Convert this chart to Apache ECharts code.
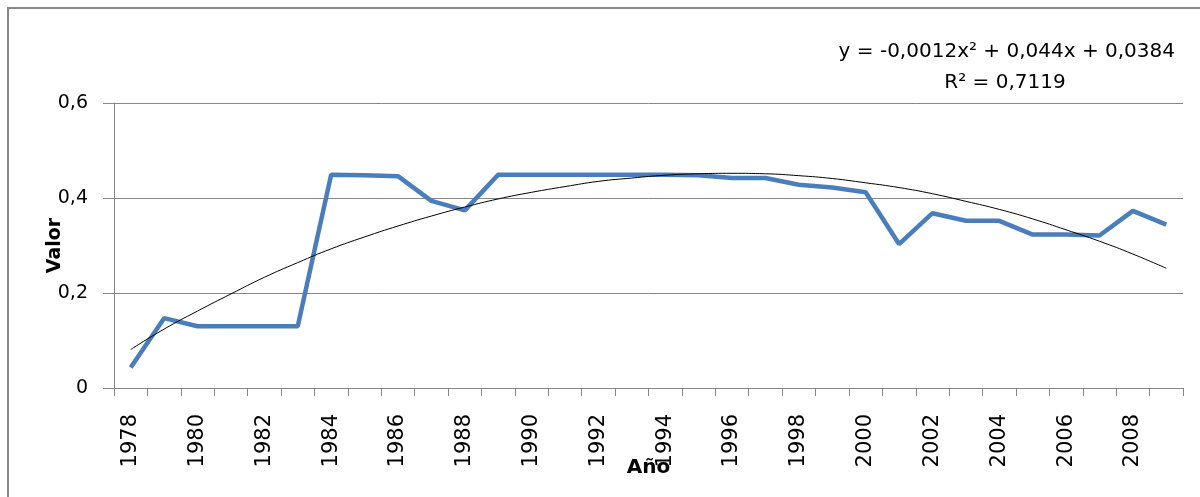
<!DOCTYPE html>
<html>
<head>
<meta charset="utf-8">
<script src="https://cdn.jsdelivr.net/npm/echarts@6/dist/echarts.min.js"></script>
<style>
  html, body { margin: 0; padding: 0; background: #fff; }
  #chart { width: 1200px; height: 497px; }
</style>
</head>
<body>
<div id="chart"></div>
<script>
// años y valores
var anos = ['1978','1979','1980','1981','1982','1983','1984','1985','1986','1987','1988',
  '1989','1990','1991','1992','1993','1994','1995','1996','1997','1998','1999',
  '2000','2001','2002','2003','2004','2005','2006','2007','2008','2009'];

var valores = [0.043, 0.147, 0.130, 0.130, 0.130, 0.130, 0.449, 0.448, 0.446, 0.394, 0.374,
  0.449, 0.449, 0.449, 0.449, 0.449, 0.449, 0.448, 0.442, 0.442, 0.428, 0.422,
  0.412, 0.303, 0.368, 0.352, 0.352, 0.323, 0.323, 0.321, 0.373, 0.344];

// linea de tendencia (polinomica)
var tendencia = [0.081, 0.124, 0.162, 0.198, 0.233, 0.264, 0.293, 0.318, 0.341, 0.362, 0.381,
  0.398, 0.412, 0.424, 0.435, 0.442, 0.448, 0.451, 0.452, 0.451, 0.447, 0.441,
  0.432, 0.422, 0.409, 0.393, 0.376, 0.356, 0.333, 0.309, 0.282, 0.252];

var ticksY = [0, 0.2, 0.4, 0.6];

var ecuacion = 'y = -0,0012x² + 0,044x + 0,0384';
var r2 = 'R² = 0,7119';

var gris = '#868686';
var fuente = 'DejaVu Sans';

var myChart = echarts.init(document.getElementById('chart'));

var option = {
  animation: false,
  grid: { left: 114, right: 17, top: 103, bottom: 109 },
  graphic: [
    {
      type: 'rect',
      shape: { x: 8, y: 8, width: 1230, height: 600 },
      style: { fill: 'none', stroke: gris, lineWidth: 2 },
      silent: true
    },
    {
      type: 'text',
      x: 1175, y: 52,
      style: { text: ecuacion, font: '20px "DejaVu Sans"', fill: '#000',
        textAlign: 'right', textVerticalAlign: 'middle' }
    },
    {
      type: 'text',
      x: 1005, y: 83,
      style: { text: r2, font: '20px "DejaVu Sans"', fill: '#000',
        textAlign: 'center', textVerticalAlign: 'middle' }
    }
  ],
  xAxis: {
    type: 'category',
    data: anos,
    boundaryGap: true,
    name: 'Año',
    nameLocation: 'middle',
    nameGap: 70,
    nameMoveOverlap: false,
    nameTextStyle: { fontFamily: fuente, fontSize: 20, fontWeight: 'bold', color: '#000' },
    axisLine: { lineStyle: { color: gris, width: 1 } },
    axisTick: { show: true, interval: 0, length: 8, lineStyle: { color: gris } },
    axisLabel: {
      interval: 1,
      rotate: 90,
      margin: 26,
      fontFamily: fuente,
      fontSize: 21,
      color: '#000'
    },
    splitLine: { show: false }
  },
  yAxis: {
    type: 'value',
    min: 0,
    max: 0.6,
    interval: 0.2,
    name: 'Valor',
    nameLocation: 'middle',
    nameGap: 49,
    nameRotate: 90,
    nameMoveOverlap: false,
    nameTextStyle: { fontFamily: fuente, fontSize: 19, fontWeight: 'bold', color: '#000' },
    axisLine: { show: true, lineStyle: { color: gris, width: 1 } },
    axisTick: { show: true, length: 11, lineStyle: { color: gris } },
    axisLabel: {
      margin: 26,
      fontFamily: fuente,
      fontSize: 19,
      color: '#000',
      formatter: function (v) {
        if (ticksY.indexOf(Math.round(v * 10) / 10) < 0) return '';
        return v === 0 ? '0' : v.toFixed(1).replace('.', ',');
      }
    },
    splitLine: { show: true, lineStyle: { color: gris, width: 1 } }
  },
  series: [
    {
      name: 'Valor',
      type: 'line',
      data: valores,
      symbol: 'none',
      lineStyle: { color: '#4a7ebb', width: 4.5 },
      z: 2
    },
    {
      name: 'Tendencia',
      type: 'line',
      data: tendencia,
      symbol: 'none',
      smooth: true,
      lineStyle: { color: '#000', width: 1 },
      z: 3
    }
  ]
};

myChart.setOption(option);
</script>
</body>
</html>
